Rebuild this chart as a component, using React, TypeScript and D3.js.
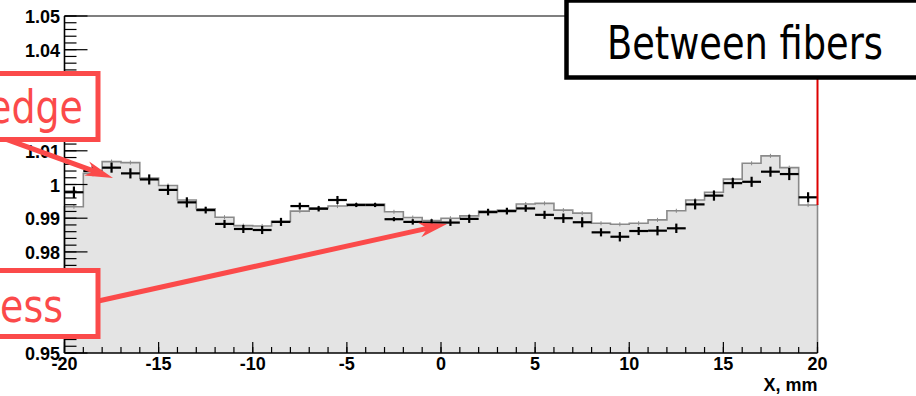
import React from 'react';
import * as d3 from 'd3';

const binCenters = [
  -19.5, -18.5, -17.5, -16.5, -15.5, -14.5, -13.5, -12.5, -11.5, -10.5,
  -9.5, -8.5, -7.5, -6.5, -5.5, -4.5, -3.5, -2.5, -1.5, -0.5,
  0.5, 1.5, 2.5, 3.5, 4.5, 5.5, 6.5, 7.5, 8.5, 9.5,
  10.5, 11.5, 12.5, 13.5, 14.5, 15.5, 16.5, 17.5, 18.5, 19.5,
];
const histValues = [
  0.9934, 1.0033, 1.0068, 1.0065, 1.0019, 0.9997, 0.9954, 0.9928, 0.9903, 0.9878,
  0.9877, 0.9891, 0.9921, 0.9931, 0.9936, 0.9942, 0.9942, 0.9919, 0.9902, 0.9893,
  0.9900, 0.9907, 0.9921, 0.9924, 0.9942, 0.9944, 0.9924, 0.9915, 0.9885, 0.9882,
  0.9885, 0.9895, 0.9922, 0.9954, 0.9977, 1.0016, 1.0063, 1.0085, 1.0050, 0.9939,
];
const histErrors = [
  0.0006, 0.0006, 0.0006, 0.0006, 0.0006, 0.0006, 0.0006, 0.0006, 0.0006, 0.0006,
  0.0006, 0.0006, 0.0006, 0.0006, 0.0006, 0.0006, 0.0006, 0.0006, 0.0006, 0.0006,
  0.0006, 0.0006, 0.0006, 0.0006, 0.0006, 0.0006, 0.0006, 0.0006, 0.0006, 0.0006,
  0.0006, 0.0006, 0.0006, 0.0006, 0.0006, 0.0006, 0.0006, 0.0006, 0.0006, 0.0006,
];
const dataValues = [
  0.9977, 1.0040, 1.0050, 1.0033, 1.0015, 0.9984, 0.9947, 0.9924, 0.9883, 0.9868,
  0.9865, 0.9889, 0.9936, 0.9928, 0.9954, 0.9939, 0.9939, 0.9897, 0.9889, 0.9887,
  0.9887, 0.9898, 0.9918, 0.9921, 0.9929, 0.9910, 0.9900, 0.9888, 0.9858, 0.9845,
  0.9862, 0.9863, 0.9870, 0.9941, 0.9967, 1.0004, 1.0008, 1.0038, 1.0031, 0.9962,
];
const dataErrors = [
  0.0017, 0.0015, 0.0015, 0.0015, 0.0015, 0.0015, 0.0015, 0.0010, 0.0012, 0.0012,
  0.0012, 0.0012, 0.0010, 0.0008, 0.0012, 0.0006, 0.0006, 0.0006, 0.0008, 0.0010,
  0.0010, 0.0012, 0.0010, 0.0010, 0.0010, 0.0012, 0.0014, 0.0015, 0.0012, 0.0014,
  0.0012, 0.0014, 0.0014, 0.0015, 0.0015, 0.0015, 0.0015, 0.0015, 0.0018, 0.0015,
];
// labels at 1.03, 1.02, 0.97, 0.96 are hidden under the annotation boxes in the reference
const yTickValues = [0.95, 0.96, 0.97, 0.98, 0.99, 1.0, 1.01, 1.02, 1.03, 1.04, 1.05];
const yTickLabels = ['0.95', '', '', '0.98', '0.99', '1', '1.01', '', '', '1.04', '1.05'];
const xTickValues = [-20, -15, -10, -5, 0, 5, 10, 15, 20];
const xTickLabels = ['-20', '-15', '-10', '-5', '0', '5', '10', '15', '20'];
const xTitle = 'X, mm';
const labelEdge = 'edge';
const labelLess = 'ess';
const labelBetween = 'Between fibers';

const RED = '#fb4a4a';

function Arrow({ x1, y1, x2, y2 }: { x1: number; y1: number; x2: number; y2: number }) {
  const dx = x2 - x1;
  const dy = y2 - y1;
  const len = Math.hypot(dx, dy);
  const ux = dx / len;
  const uy = dy / len;
  const px = -uy;
  const py = ux;
  const L = 28;
  const N = 20;
  const hw = 7.5;
  const bx = x2 - ux * L;
  const by = y2 - uy * L;
  const nx = x2 - ux * N;
  const ny = y2 - uy * N;
  const pts = [
    [x2, y2],
    [bx + px * hw, by + py * hw],
    [nx, ny],
    [bx - px * hw, by - py * hw],
  ];
  return (
    <g>
      <line x1={x1} y1={y1} x2={nx + ux * 2} y2={ny + uy * 2} stroke={RED} strokeWidth={5} />
      <polygon points={pts.map((p) => p.join(',')).join(' ')} fill={RED} />
    </g>
  );
}

export default function App() {
  const W = 916;
  const H = 396;
  const x = d3.scaleLinear().domain([-20, 20]).range([64.5, 817.5]);
  const y = d3.scaleLinear().domain([0.95, 1.05]).range([353, 16]);
  const n = binCenters.length;
  const half = 0.5;

  const stepPts: [number, number][] = binCenters.map((c, i) => [c - half, histValues[i]] as [number, number]);
  stepPts.push([binCenters[n - 1] + half, histValues[n - 1]]);

  const areaGen = d3
    .area<[number, number]>()
    .x((d) => x(d[0]))
    .y0(y(0.95))
    .y1((d) => y(d[1]))
    .curve(d3.curveStepAfter);
  const outlinePts: [number, number][] = [[stepPts[0][0], 0.95], ...stepPts, [stepPts[stepPts.length - 1][0], 0.95]];
  const lineGen = d3
    .line<[number, number]>()
    .x((d) => x(d[0]))
    .y((d) => y(d[1]))
    .curve(d3.curveStepAfter);

  const yMinor = y.ticks(50);
  const xMinor = x.ticks(40);

  const axisFont = "'Liberation Sans', Arial, Helvetica, sans-serif";
  const annFont = "'DejaVu Sans', Verdana, sans-serif";

  return (
    <svg width={W} height={H} style={{ position: 'absolute', left: 0, top: 0, background: '#fff' }}>
      <rect x={0} y={0} width={W} height={H} fill="#fff" />
      {/* histogram fill */}
      <path d={areaGen(stepPts) || ''} fill="#e4e4e4" stroke="none" />
      <path d={lineGen(outlinePts) || ''} fill="none" stroke="#8a8a8a" strokeWidth={1.6} />
      {/* histogram error ticks */}
      {binCenters.map((c, i) => (
        <line
          key={'he' + i}
          x1={x(c)}
          x2={x(c)}
          y1={y(histValues[i] - histErrors[i])}
          y2={y(histValues[i] + histErrors[i])}
          stroke="#8a8a8a"
          strokeWidth={1}
        />
      ))}
      {/* frame */}
      <line x1={x(-20)} x2={x(20)} y1={y(1.05)} y2={y(1.05)} stroke="#000" strokeWidth={1.2} />
      <line x1={x(-20)} x2={x(-20)} y1={y(1.05)} y2={y(0.95)} stroke="#000" strokeWidth={1.6} />
      <line x1={x(-20)} x2={x(20)} y1={y(0.95)} y2={y(0.95)} stroke="#000" strokeWidth={1.6} />
      {/* y ticks */}
      {yMinor.map((v, i) => (
        <line key={'ym' + i} x1={x(-20)} x2={x(-20) + 12} y1={y(v)} y2={y(v)} stroke="#000" strokeWidth={1.2} />
      ))}
      {yTickValues.map((v, i) => (
        <line key={'yM' + i} x1={x(-20)} x2={x(-20) + 23} y1={y(v)} y2={y(v)} stroke="#000" strokeWidth={1.2} />
      ))}
      {yTickValues.map((v, i) =>
        yTickLabels[i] ? (
          <text
            key={'yl' + i}
            x={60}
            y={y(v) + 1}
            textAnchor="end"
            dominantBaseline="central"
            fontFamily={axisFont}
            fontWeight="bold"
            fontSize={18}
            fill="#000"
          >
            {yTickLabels[i]}
          </text>
        ) : null
      )}
      {/* x ticks */}
      {xMinor.map((v, i) => (
        <line key={'xm' + i} x1={x(v)} x2={x(v)} y1={y(0.95)} y2={y(0.95) - 6} stroke="#000" strokeWidth={1.2} />
      ))}
      {xTickValues.map((v, i) => (
        <line key={'xM' + i} x1={x(v)} x2={x(v)} y1={y(0.95)} y2={y(0.95) - 11} stroke="#000" strokeWidth={1.2} />
      ))}
      {xTickValues.map((v, i) => (
        <text
          key={'xl' + i}
          x={x(v)}
          y={370}
          textAnchor="middle"
          fontFamily={axisFont}
          fontWeight="bold"
          fontSize={18}
          fill="#000"
        >
          {xTickLabels[i]}
        </text>
      ))}
      <text x={x(20)} y={391} textAnchor="end" fontFamily={axisFont} fontWeight="bold" fontSize={18} fill="#000">
        {xTitle}
      </text>
      {/* data points */}
      {binCenters.map((c, i) => (
        <g key={'d' + i}>
          <line x1={x(c - half)} x2={x(c + half)} y1={y(dataValues[i])} y2={y(dataValues[i])} stroke="#000" strokeWidth={2.2} />
          <line
            x1={x(c)}
            x2={x(c)}
            y1={y(dataValues[i] - dataErrors[i])}
            y2={y(dataValues[i] + dataErrors[i])}
            stroke="#000"
            strokeWidth={2.2}
          />
        </g>
      ))}
      {/* red vertical marker */}
      <line x1={x(20)} x2={x(20)} y1={78} y2={y(histValues[n - 1])} stroke="#dd0000" strokeWidth={2} />
      {/* arrows */}
      <Arrow x1={-10} y1={133.4} x2={113} y2={178} />
      <Arrow x1={96} y1={301.5} x2={447} y2={224} />
      {/* annotation boxes */}
      <rect x={-20} y={73.5} width={118} height={66} fill="#fff" stroke={RED} strokeWidth={5} />
      <text
        x={83}
        y={123}
        textAnchor="end"
        fontFamily={annFont}
        fontSize={46}
        fill={RED}
        textLength={95}
        lengthAdjust="spacingAndGlyphs"
      >
        {labelEdge}
      </text>
      <rect x={-20} y={270.5} width={118} height={66} fill="#fff" stroke={RED} strokeWidth={5} />
      <text
        x={63}
        y={322}
        textAnchor="end"
        fontFamily={annFont}
        fontSize={46}
        fill={RED}
        textLength={63}
        lengthAdjust="spacingAndGlyphs"
      >
        {labelLess}
      </text>
      <rect x={566.5} y={0.5} width={400} height={77} fill="#fff" stroke="#000" strokeWidth={4.5} />
      <text
        x={607}
        y={59}
        fontFamily={annFont}
        fontSize={46}
        fill="#000"
        textLength={276}
        lengthAdjust="spacingAndGlyphs"
      >
        {labelBetween}
      </text>
    </svg>
  );
}
